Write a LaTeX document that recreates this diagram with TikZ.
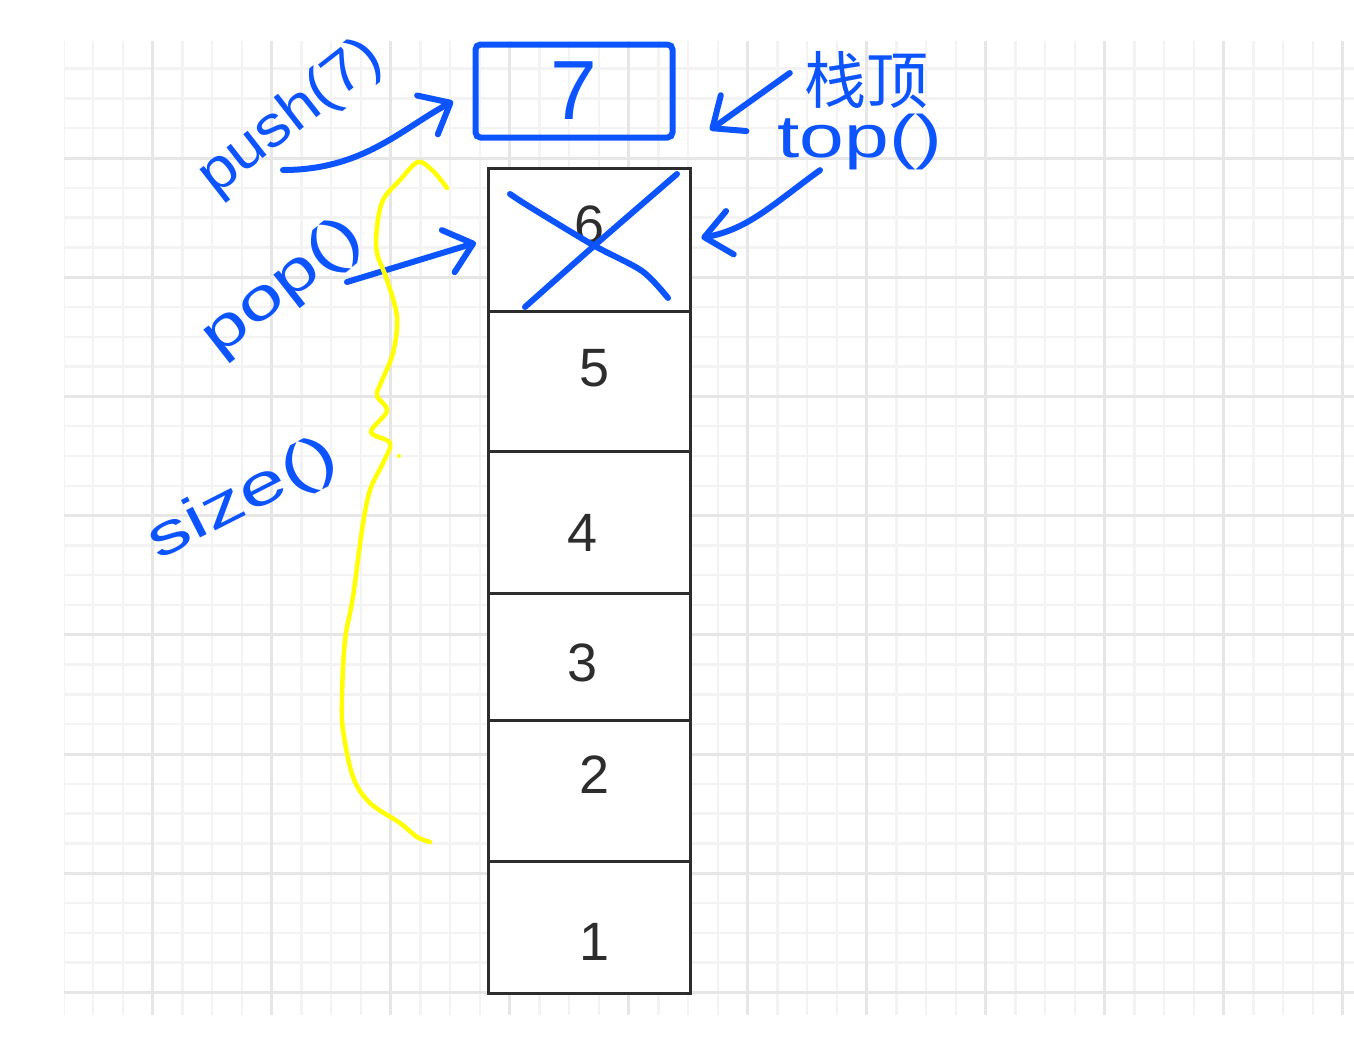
\documentclass[tikz,border=0pt]{standalone}
\usepackage{fontspec}
\setmainfont{Liberation Sans}
\newfontfamily\cjkfont{Noto Sans CJK SC}
\usepackage{graphicx}
\usepackage{tikz}
\usetikzlibrary{arrows.meta}

\definecolor{penblue}{RGB}{12,84,255}
\definecolor{penyellow}{RGB}{255,255,0}
\definecolor{gridminor}{RGB}{243,243,243}
\definecolor{gridmajor}{RGB}{230,230,230}
\definecolor{boxline}{RGB}{45,45,45}

\tikzset{
	pen/.style={penblue,line width=6pt,line cap=round,line join=round},
	penarrow/.style={pen,-{Straight Barb[round,length=26pt,width=44pt]}},
	hand/.style={text=penblue,inner sep=0pt,font=\fontsize{58}{58}\selectfont},
	cell/.style={draw=boxline,fill=white,line width=3pt,minimum width=202pt,inner sep=0pt},
	digit/.style={text=boxline,inner sep=0pt,font=\fontsize{54}{54}\selectfont},
	pushbox/.style={draw=penblue,line width=6pt,rounded corners=5pt,minimum width=197pt,minimum height=93pt,inner sep=0pt,text=penblue,font=\fontsize{84}{84}\selectfont},
}

\begin{document}
\begin{tikzpicture}[x=1pt,y=-1pt]
	\useasboundingbox (0,0) rectangle (1354,1036);
	\fill[white] (0,0) rectangle (1354,1036);
	
	% grid paper
	\begin{scope}
		\clip (64,41) rectangle (1354,1015);
		\foreach \i in {0,...,43}
		\draw[gridminor,line width=2.5pt] (63.25+29.75*\i,41) -- (63.25+29.75*\i,1015);
		\foreach \i in {1,...,32}
		\draw[gridminor,line width=2.5pt] (64,38.8+29.8*\i) -- (1354,38.8+29.8*\i);
		\foreach \i in {0,...,10}
		\draw[gridmajor,line width=3pt] (152.5+119*\i,41) -- (152.5+119*\i,1015);
		\foreach \i in {0,...,7}
		\draw[gridmajor,line width=3pt] (64,158+119.2*\i) -- (1354,158+119.2*\i);
	\end{scope}
	
	% the stack
	\foreach \n/\cy/\h in {6/239.5/143, 5/381/140, 4/522/142, 3/656.5/127, 2/790.5/141, 1/927/132}
	\node[cell,minimum height=\h pt] (cell\n) at (589,\cy) {};
	\foreach \n/\lx/\ly in {6/590/225, 5/595/368, 4/583/533, 3/583/663, 2/595/775, 1/595/942}
	\node[digit] (num\n) at (\lx,\ly) {\n};
	
	% new element
	\node[pushbox] (newtop) at (574,91) {7};
	
	% labels
	\node[hand,rotate=38] (pushlbl) at (291,118) {\scalebox{1.1}[1]{push(7)}};
	\node[hand,rotate=38] (poplbl) at (283,288) {\scalebox{1.38}[1]{pop()}};
	\node[hand,rotate=27] (sizelbl) at (243,500) {\scalebox{1.45}[1]{size()}};
	\node[hand,font=\cjkfont\fontsize{62}{62}\selectfont] (toplbl) at (866,80) {栈顶};
	\node[hand,font=\fontsize{60}{60}\selectfont] (topfn) at (860,142) {\scalebox{1.34}[1]{top()}};
	
	\coordinate (pushtail) at (283,170);
	\coordinate (poptail) at (347,282);
	\coordinate (topmark) at (710,130);
	
	% arrows
	\draw[penarrow,shorten >=22pt] (pushtail) to[out=0,in=208] (newtop.west);
	\draw[penarrow,shorten >=11pt] (poptail) -- (cell6.west);
	\draw[penarrow] ([shift={(-14pt,7pt)}]toplbl.west) -- (topmark);
	\draw[penarrow,shorten >=10pt] ([xshift=-40pt]topfn.south) to[out=216,in=10] (cell6.east);
	
	% crossed out
	\draw[pen] plot[smooth] coordinates {(510,194) (530,207) (593,245) (642,271) (668,298)};
	\draw[pen] plot[smooth] coordinates {(677,174) (595,245) (525,307)};
	
	% size brace
	\draw[penyellow,line width=4.5pt,line cap=round,line join=round] plot[smooth,tension=0.55] coordinates {(447,188) (433,171) (418,162) (400,180) (383,200) (377,227) (377,253) (387,280) (397,317) (393,353) (380,385) (377,396) (387,411) (371,432) (390,443) (383,463) (370,490) (362,530) (353,597) (345,640) (342,697) (343,730) (353,777) (370,803) (400,823) (417,837) (430,842)};
	\fill[penyellow] (399,456) circle (2pt);
\end{tikzpicture}
\end{document}
